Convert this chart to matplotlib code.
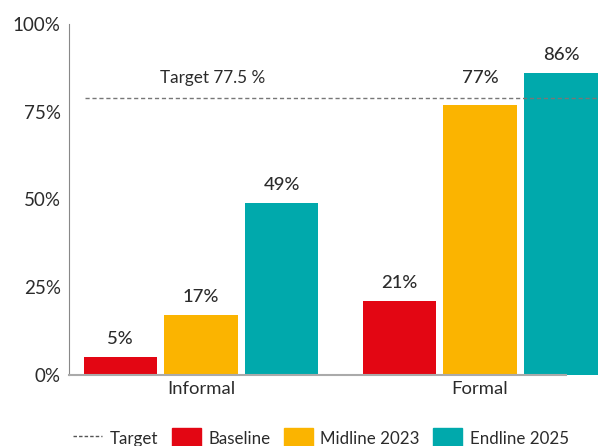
import matplotlib
matplotlib.use("Agg")
import matplotlib.pyplot as plt
from matplotlib.patches import Patch
from matplotlib.lines import Line2D
import numpy as np

plt.rcParams['font.family'] = ['Lato', 'DejaVu Sans']

categories = ["Informal", "Formal"]
series = ["Baseline", "Midline 2023", "Endline 2025"]
baseline = [5, 21]
midline = [17, 77]
endline = [49, 86]
target_line = 79
target_label = "Target 77.5 %"
yticks = [0, 25, 50, 75, 100]
yticklabels = ["0%", "25%", "50%", "75%", "100%"]

colors = ["#E30613", "#FBB400", "#00A9AC"]
text_color = "#2b2b2b"

fig = plt.figure(figsize=(5.98, 4.46), dpi=100)
ax = fig.add_axes([69/598, 1-375/446, (566-69)/598, (375-24)/446])

label_above_target = 84.5
x = np.arange(len(categories))
w = 0.262
step = 0.29
for i, (vals, c) in enumerate(zip([baseline, midline, endline], colors)):
    pos = x + (i-1)*step
    ax.bar(pos, vals, width=w, color=c, clip_on=False, zorder=2)
    for p, v in zip(pos, vals):
        ly = v + 5.2
        if abs(ly - target_line) < 4:
            ly = label_above_target
        ax.text(p, ly, f"{v}%", ha="center", va="center", fontsize=13.3,
                fontweight="medium", color=text_color, clip_on=False)

ax.plot([-0.416, 1.43], [target_line, target_line], linestyle=(0, (3, 2)),
        color="#777777", lw=1.0, clip_on=False, zorder=3)
ax.text(0.043, label_above_target, target_label, ha="center", va="center",
        fontsize=12.3, color=text_color)

ax.set_xlim(-0.473, 1.308)
ax.set_ylim(0, 100)
ax.set_yticks(yticks)
ax.set_yticklabels(yticklabels, fontsize=13.5, color=text_color)
ax.set_xticks(x)
ax.set_xticklabels(categories, fontsize=13.3, color=text_color)
ax.tick_params(axis="both", length=0, pad=4)
ax.tick_params(axis="y", pad=6)
for s in ["top", "right"]:
    ax.spines[s].set_visible(False)
ax.spines["left"].set_color("#888888")
ax.spines["bottom"].set_color("#aaaaaa")
ax.spines["left"].set_linewidth(0.8)
ax.spines["bottom"].set_linewidth(1.5)

handles = [Line2D([0], [0], color="#555555", lw=1, linestyle=(0, (2.5, 1.5)))]
handles += [Patch(color=c) for c in colors]
labels = ["Target"] + series
fig.legend(handles, labels, loc="center left", bbox_to_anchor=(58/598, 1-438/446),
           ncol=4, frameon=False, fontsize=12.2, handlelength=1.7, handleheight=1.5,
           columnspacing=0.8, handletextpad=0.45, labelcolor=text_color)

fig.savefig("out.png", dpi=100)
